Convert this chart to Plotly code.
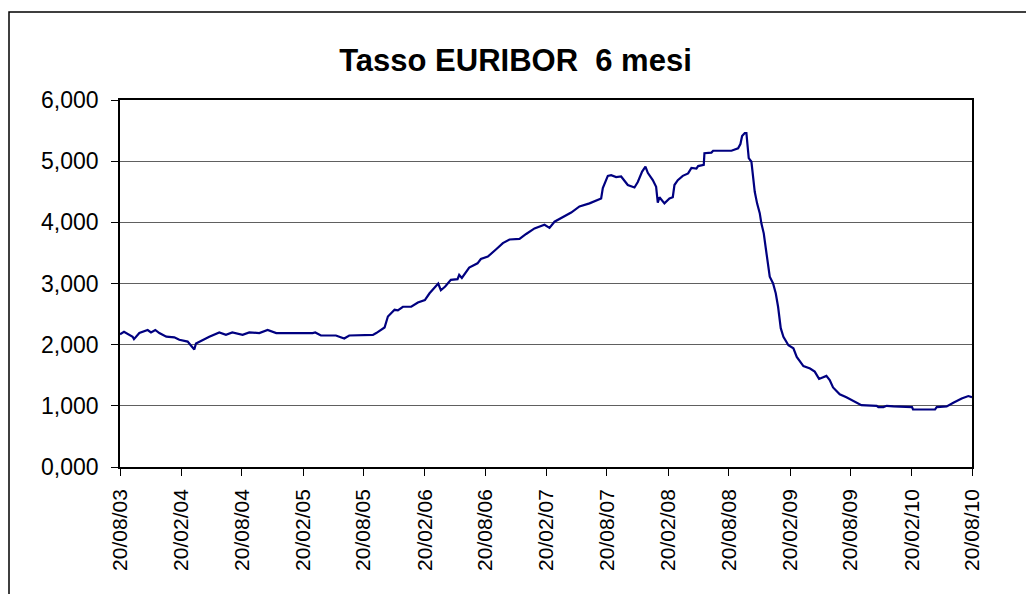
import plotly.graph_objects as go

title_text = "Tasso EURIBOR  6 mesi"

dates = [
    "2003-08-20", "2003-09-01", "2003-09-27", "2003-10-01", "2003-10-17", "2003-11-11", "2003-11-21", "2003-12-04", "2003-12-16",
    "2004-01-06", "2004-01-30", "2004-02-14", "2004-03-10", "2004-03-30", "2004-04-04", "2004-04-24", "2004-05-14", "2004-06-13",
    "2004-07-03", "2004-07-22", "2004-08-22", "2004-09-11", "2004-10-11", "2004-11-05", "2004-12-01",
    "2005-03-20", "2005-03-28", "2005-04-14", "2005-05-29", "2005-06-23", "2005-07-08", "2005-09-17", "2005-09-27", "2005-10-22",
    "2005-11-01", "2005-11-21", "2005-12-01", "2005-12-16",
    "2006-01-10", "2006-01-30", "2006-02-20", "2006-03-06", "2006-03-20", "2006-04-01", "2006-04-09", "2006-04-22", "2006-05-09",
    "2006-05-29", "2006-06-03", "2006-06-11", "2006-07-03", "2006-07-28", "2006-08-07", "2006-08-28", "2006-09-22", "2006-10-12",
    "2006-11-01", "2006-12-01", "2006-12-21",
    "2007-01-15", "2007-02-14", "2007-03-01", "2007-03-16", "2007-04-10", "2007-05-05", "2007-05-30", "2007-06-29", "2007-08-03",
    "2007-08-08", "2007-08-23", "2007-09-02", "2007-09-17", "2007-10-02", "2007-10-22", "2007-11-11", "2007-11-21", "2007-12-04",
    "2007-12-14", "2007-12-21",
    "2008-01-05", "2008-01-15", "2008-01-20", "2008-01-25", "2008-02-09", "2008-02-24", "2008-03-05", "2008-03-10", "2008-03-20",
    "2008-04-04", "2008-04-20", "2008-04-30", "2008-05-15", "2008-05-20", "2008-06-06", "2008-06-08", "2008-06-29", "2008-07-04",
    "2008-08-28", "2008-09-07", "2008-09-17", "2008-09-24", "2008-09-29", "2008-10-07", "2008-10-12", "2008-10-15", "2008-10-19",
    "2008-10-27", "2008-11-01", "2008-11-06", "2008-11-13", "2008-11-21", "2008-11-26", "2008-12-03", "2008-12-09", "2008-12-16",
    "2008-12-21", "2008-12-31",
    "2009-01-08", "2009-01-15", "2009-01-23", "2009-01-31", "2009-02-15", "2009-03-02", "2009-03-12", "2009-04-01", "2009-04-21",
    "2009-05-05", "2009-05-18", "2009-06-09", "2009-06-19", "2009-06-29", "2009-07-19", "2009-08-08", "2009-08-28", "2009-09-22",
    "2009-11-07", "2009-11-12", "2009-11-27", "2009-12-07", "2009-12-27",
    "2010-02-21", "2010-02-24", "2010-05-01", "2010-05-06", "2010-06-05", "2010-06-25", "2010-07-20", "2010-08-09", "2010-08-20",
]

rates = [
    2.17, 2.21, 2.13, 2.09, 2.19, 2.24, 2.20, 2.24, 2.19,
    2.13, 2.12, 2.08, 2.05, 1.92, 2.02, 2.08, 2.13, 2.20, 2.16, 2.20, 2.16, 2.20, 2.19, 2.24, 2.19,
    2.19, 2.20, 2.15, 2.15, 2.10, 2.15, 2.16, 2.19, 2.28, 2.46, 2.57, 2.56, 2.62,
    2.62, 2.69, 2.73, 2.84, 2.92, 3.00, 2.89, 2.95, 3.06, 3.07, 3.14, 3.09, 3.26, 3.33, 3.40, 3.44, 3.56, 3.66, 3.72, 3.73, 3.81,
    3.90, 3.96, 3.91, 4.01, 4.09, 4.16, 4.26, 4.31, 4.39, 4.56, 4.76, 4.77, 4.74, 4.75, 4.61, 4.57, 4.66, 4.83, 4.91, 4.81,
    4.69, 4.58, 4.32, 4.41, 4.31, 4.39, 4.41, 4.61, 4.69, 4.76, 4.80, 4.89, 4.88, 4.92, 4.94, 5.13, 5.14, 5.17, 5.17, 5.19,
    5.21, 5.28, 5.41, 5.46, 5.46, 5.28, 5.05, 4.99, 4.77, 4.50, 4.31, 4.15, 3.98, 3.82, 3.58, 3.33, 3.11, 3.00,
    2.84, 2.62, 2.27, 2.13, 1.99, 1.94, 1.80, 1.65, 1.61, 1.56, 1.44, 1.49, 1.42, 1.30, 1.19, 1.14, 1.08, 1.01, 1.00, 0.98,
    0.98, 1.00, 0.99,
    0.98, 0.94, 0.94, 0.98, 0.99, 1.05, 1.12, 1.16, 1.14,
]

tick_dates = [
    "2003-08-20", "2004-02-20", "2004-08-20", "2005-02-20", "2005-08-20", "2006-02-20", "2006-08-20", "2007-02-20",
    "2007-08-20", "2008-02-20", "2008-08-20", "2009-02-20", "2009-08-20", "2010-02-20", "2010-08-20",
]
y_ticks = [0, 1, 2, 3, 4, 5, 6]

FONT = "Liberation Sans, Arial, sans-serif"

# the page body adds an 8px offset; margins compensate for it
W, H = 1034, 594
ML, MT = 112, 92
PW, PH = 852, 367

fig = go.Figure()
fig.add_trace(go.Scatter(
    x=dates, y=rates, mode="lines",
    line=dict(color="#000080", width=2.2),
    showlegend=False, hoverinfo="x+y",
))

fig.update_layout(
    width=W, height=H,
    margin=dict(l=ML, r=W - ML - PW, t=MT, b=H - MT - PH),
    paper_bgcolor="white", plot_bgcolor="white",
    separators=",.",
    font=dict(family=FONT, color="black", size=22),
    title=dict(
        text="<b>" + title_text + "</b>",
        x=507.5 / W, xref="container", xanchor="center",
        y=1 - 52 / H, yref="container", yanchor="middle",
        font=dict(family=FONT, size=31, color="black"),
    ),
    showlegend=False,
)

fig.update_xaxes(
    type="date",
    range=[tick_dates[0], tick_dates[-1]],
    tickmode="array", tickvals=tick_dates, tickformat="%d/%m/%y",
    tickangle=-90,
    ticks="outside", ticklen=7, tickwidth=1, tickcolor="black",
    showline=True, linecolor="black", linewidth=1.5, mirror=True,
    showgrid=False, zeroline=False,
    ticklabelstandoff=5,
    tickfont=dict(family=FONT, size=21, color="black"),
)
fig.update_yaxes(
    range=[0, 6],
    tickmode="array", tickvals=y_ticks, tickformat=".3f",
    ticks="outside", ticklen=7, tickwidth=1, tickcolor="black",
    showline=True, linecolor="black", linewidth=1.5, mirror=True,
    showgrid=True, gridcolor="#606060", gridwidth=1,
    zeroline=False,
    ticklabelstandoff=8,
    tickfont=dict(family=FONT, size=23, color="black"),
)

# outer chart-area frame (extends past the right and bottom edges like the reference)
fig.add_shape(
    type="rect", xref="paper", yref="paper",
    x0=-(ML - 1) / PW, x1=1.3, y0=-0.6, y1=(PH + MT - 4) / PH,
    line=dict(color="black", width=1.5), fillcolor="rgba(0,0,0,0)", layer="below",
)

fig.write_html("out.html")
